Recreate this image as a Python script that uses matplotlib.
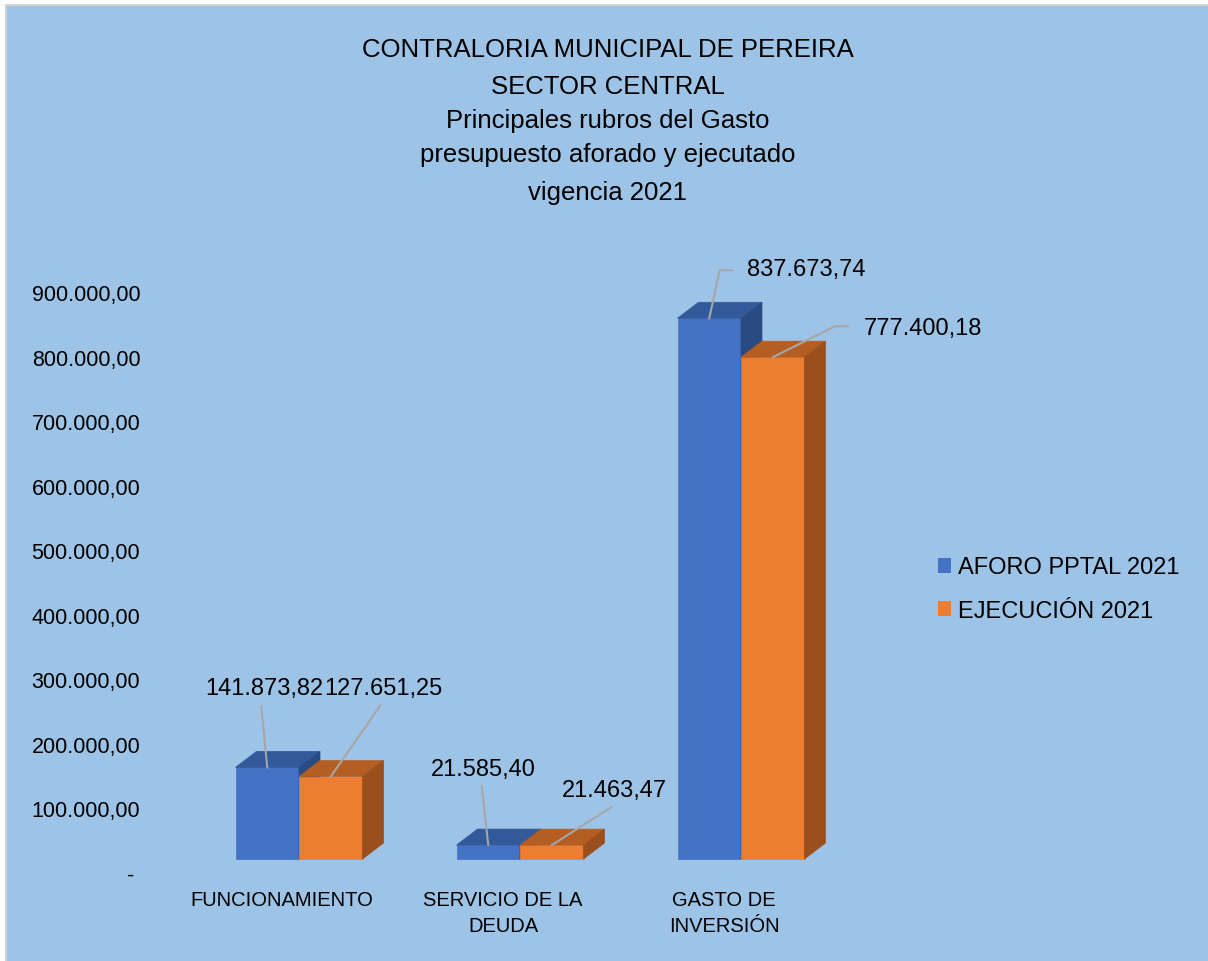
import matplotlib
matplotlib.use("Agg")
import matplotlib.pyplot as plt
import matplotlib.ticker as mtick
import numpy as np
from matplotlib.patches import Rectangle, Patch
from matplotlib.lines import Line2D
from matplotlib.transforms import IdentityTransform

plt.rcParams["font.family"] = ["Liberation Sans", "DejaVu Sans"]

# Data
categories = ["FUNCIONAMIENTO", "SERVICIO DE LA\nDEUDA", "GASTO DE\nINVERSIÓN"]
aforo = [141873.82, 21585.40, 837673.74]
ejecucion = [127651.25, 21463.47, 777400.18]
series_names = ["AFORO PPTAL 2021", "EJECUCIÓN 2021"]
yticks = np.arange(0, 900001, 100000)
title_lines = [
    "CONTRALORIA MUNICIPAL DE PEREIRA",
    "SECTOR CENTRAL",
    "Principales rubros del Gasto",
    "presupuesto aforado y ejecutado",
    "vigencia 2021",
]

# Colours (front, top, side)
blue = ("#4472C4", "#32599A", "#2A4A82")
orange = ("#ED7D31", "#B45E23", "#9A4F1C")
bg = "#9DC3E6"


def es_fmt(v):
    s = f"{v:,.2f}"
    return s.replace(",", "X").replace(".", ",").replace("X", ".")


W, H = 1208, 962
fig = plt.figure(figsize=(W / 100, H / 100), dpi=100)
fig.patch.set_facecolor("white")
fig.add_artist(Rectangle((6 / W, -0.01), 1.02, (H - 6) / H + 0.01, transform=fig.transFigure,
                         facecolor=bg, edgecolor="#D3D3D3", lw=1.5, zorder=-10))

# axes placement in pixels
ax = fig.add_axes([150 / W, (H - 900) / H, 750 / W, 660 / H])
ax.patch.set_alpha(0)

px_x = 221.0          # pixels per category
x0_px = 299.0         # pixel of first category center
px_y = 64.55 / 1e5    # pixels per unit value
zero_px = 874.0

ax.set_xlim((150 - x0_px) / px_x, (900 - x0_px) / px_x)
ax.set_ylim(-(900 - zero_px) / px_y, (zero_px - 240) / px_y)

# front face floor sits a bit above the back-wall zero line
base = (zero_px - 860) / px_y
dx = 21 / px_x
dy = 16 / px_y
w = 63.5 / px_x


def box(x, h, cols):
    front, top, side = cols
    ax.bar(x, h, w, bottom=base, align="edge", color=front, lw=0.5, edgecolor=front, zorder=2)
    t = base + h
    ax.fill([x, x + w, x + w + dx, x + dx], [t, t, t + dy, t + dy],
            color=top, lw=0.5, edgecolor=top, zorder=2)
    ax.fill([x + w, x + w + dx, x + w + dx, x + w], [base, base + dy, t + dy, t],
            color=side, lw=0.5, edgecolor=side, zorder=2)


xc = np.arange(len(categories))
for i in range(len(categories)):
    box(xc[i] - w, aforo[i], blue)
    box(xc[i], ejecucion[i], orange)

ax.set_yticks(yticks)
ax.yaxis.set_major_formatter(mtick.FuncFormatter(lambda v, p: "- " if v == 0 else es_fmt(v)))
ax.tick_params(axis="y", length=0, pad=7, labelsize=15.5)
ax.set_xticks([])
for s in ax.spines.values():
    s.set_visible(False)

# category labels
for i, cat in enumerate(categories):
    ax.text(xc[i] - 17 / px_x, -(891 - zero_px) / px_y, cat, ha="center", va="top",
            fontsize=14.5, linespacing=1.45, clip_on=False)

# data labels with leader lines (offsets in pixels from bar top)
label_off = [[(-2.5, 79), (-4.5, 76), (96.5, 49)],
             [(53, 89), (62.5, 55), (150.5, 29)]]
leader_off = [[[(-6, 61)], [(-6.5, 59)], [(10.5, 48), (22.5, 48)]],
              [[(49.5, 71)], [(59.5, 38)], [(62.5, 31), (75.5, 31)]]]

fig.canvas.draw()
for s_idx, vals in enumerate([aforo, ejecucion]):
    for i, v in enumerate(vals):
        xa = xc[i] - w / 2 if s_idx == 0 else xc[i] + w / 2
        ax_px, ay_px = ax.transData.transform((xa, base + v))
        pts = [(ax_px, ay_px)] + [(ax_px + ox, ay_px + oy) for ox, oy in leader_off[s_idx][i]]
        fig.add_artist(Line2D([p[0] for p in pts], [p[1] for p in pts], transform=IdentityTransform(),
                              color="#A6A6A6", lw=1.5, zorder=3))
        lx, ly = label_off[s_idx][i]
        fig.text(ax_px + lx, ay_px + ly, es_fmt(v), transform=IdentityTransform(),
                 ha="center", va="center", fontsize=17)

# title
baselines = [57, 94, 128, 162, 200]
for line, b in zip(title_lines, baselines):
    fig.text(608 / W, (H - b) / H, line, ha="center", va="baseline", fontsize=18.5)

# legend
handles = [Patch(facecolor=blue[0]), Patch(facecolor=orange[0])]
fig.legend(handles, series_names, loc="center left", bbox_to_anchor=(917 / W, (H - 590) / H),
           frameon=False, fontsize=17, handlelength=0.55, handleheight=0.6,
           handletextpad=0.3, labelspacing=0.9)

fig.savefig("out.png", dpi=100)
